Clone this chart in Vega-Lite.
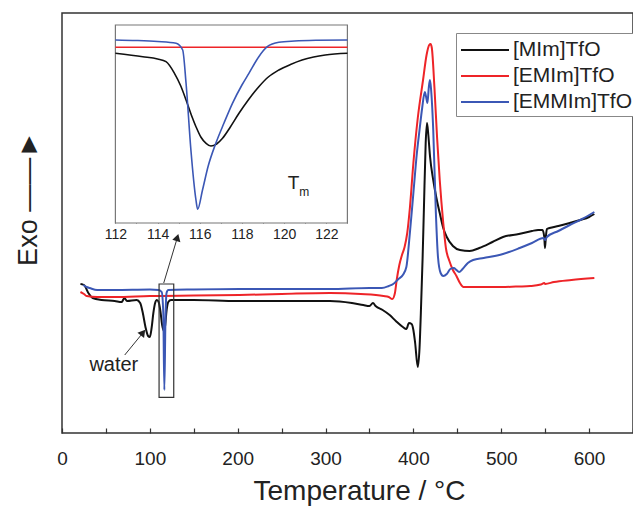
{
"$schema": "https://vega.github.io/schema/vega-lite/v6.json",
"width": 571,
"height": 420,
"autosize": {"type": "none"},
"padding": {"left": 62, "top": 13, "right": 0, "bottom": 73},
"config": {"view": {"stroke": "#333", "strokeWidth": 1.5}, "font": "Liberation Sans", "axis": {"grid": false}},
"datasets": {
"main": [
{"s":"[MIm]TfO","T":21,"v":149},{"s":"[MIm]TfO","T":25,"v":148},{"s":"[MIm]TfO","T":30,"v":140},{"s":"[MIm]TfO","T":35,"v":135},{"s":"[MIm]TfO","T":45,"v":133},{"s":"[MIm]TfO","T":60,"v":132},{"s":"[MIm]TfO","T":68,"v":131},{"s":"[MIm]TfO","T":71,"v":135},{"s":"[MIm]TfO","T":74,"v":132},{"s":"[MIm]TfO","T":85,"v":133},{"s":"[MIm]TfO","T":89,"v":130},{"s":"[MIm]TfO","T":92,"v":120},{"s":"[MIm]TfO","T":95,"v":106},{"s":"[MIm]TfO","T":98,"v":97},{"s":"[MIm]TfO","T":100,"v":96},{"s":"[MIm]TfO","T":102,"v":105},{"s":"[MIm]TfO","T":104,"v":120},{"s":"[MIm]TfO","T":106,"v":130},{"s":"[MIm]TfO","T":108,"v":133},{"s":"[MIm]TfO","T":110,"v":131},{"s":"[MIm]TfO","T":112,"v":122},{"s":"[MIm]TfO","T":114,"v":108},{"s":"[MIm]TfO","T":116,"v":102},{"s":"[MIm]TfO","T":117.5,"v":108},{"s":"[MIm]TfO","T":119,"v":122},{"s":"[MIm]TfO","T":121,"v":131},{"s":"[MIm]TfO","T":124,"v":133},{"s":"[MIm]TfO","T":150,"v":133},{"s":"[MIm]TfO","T":200,"v":132},{"s":"[MIm]TfO","T":250,"v":132},{"s":"[MIm]TfO","T":305,"v":132},{"s":"[MIm]TfO","T":330,"v":130},{"s":"[MIm]TfO","T":343,"v":128},{"s":"[MIm]TfO","T":350,"v":127},{"s":"[MIm]TfO","T":354,"v":130},{"s":"[MIm]TfO","T":357,"v":127},{"s":"[MIm]TfO","T":365,"v":123},{"s":"[MIm]TfO","T":373,"v":118},{"s":"[MIm]TfO","T":380,"v":112},{"s":"[MIm]TfO","T":388,"v":106},{"s":"[MIm]TfO","T":392,"v":104},{"s":"[MIm]TfO","T":395,"v":110},{"s":"[MIm]TfO","T":398,"v":109},{"s":"[MIm]TfO","T":400,"v":103},{"s":"[MIm]TfO","T":402,"v":90},{"s":"[MIm]TfO","T":405,"v":66},{"s":"[MIm]TfO","T":407,"v":85},{"s":"[MIm]TfO","T":408.5,"v":120},{"s":"[MIm]TfO","T":410.5,"v":175},{"s":"[MIm]TfO","T":412,"v":225},{"s":"[MIm]TfO","T":414,"v":290},{"s":"[MIm]TfO","T":415.5,"v":310},{"s":"[MIm]TfO","T":417,"v":298},{"s":"[MIm]TfO","T":419,"v":276},{"s":"[MIm]TfO","T":422.6,"v":253},{"s":"[MIm]TfO","T":426,"v":236},{"s":"[MIm]TfO","T":430,"v":220},{"s":"[MIm]TfO","T":434,"v":205},{"s":"[MIm]TfO","T":438,"v":196},{"s":"[MIm]TfO","T":445,"v":187},{"s":"[MIm]TfO","T":453,"v":183},{"s":"[MIm]TfO","T":464,"v":182},{"s":"[MIm]TfO","T":475,"v":185},{"s":"[MIm]TfO","T":490,"v":191},{"s":"[MIm]TfO","T":502,"v":196},{"s":"[MIm]TfO","T":520,"v":199},{"s":"[MIm]TfO","T":535,"v":202},{"s":"[MIm]TfO","T":542,"v":203},{"s":"[MIm]TfO","T":547,"v":203},{"s":"[MIm]TfO","T":549,"v":196},{"s":"[MIm]TfO","T":549.8,"v":185},{"s":"[MIm]TfO","T":550.8,"v":196},{"s":"[MIm]TfO","T":552,"v":204},{"s":"[MIm]TfO","T":555,"v":205},{"s":"[MIm]TfO","T":565,"v":207},{"s":"[MIm]TfO","T":578,"v":210},{"s":"[MIm]TfO","T":590,"v":213},{"s":"[MIm]TfO","T":600,"v":216},{"s":"[MIm]TfO","T":606,"v":219},
{"s":"[EMIm]TfO","T":21,"v":141},{"s":"[EMIm]TfO","T":25,"v":139},{"s":"[EMIm]TfO","T":28,"v":137},{"s":"[EMIm]TfO","T":40,"v":136},{"s":"[EMIm]TfO","T":60,"v":136},{"s":"[EMIm]TfO","T":100,"v":137},{"s":"[EMIm]TfO","T":150,"v":137.5},{"s":"[EMIm]TfO","T":202,"v":138},{"s":"[EMIm]TfO","T":250,"v":139},{"s":"[EMIm]TfO","T":305,"v":140},{"s":"[EMIm]TfO","T":340,"v":139},{"s":"[EMIm]TfO","T":366,"v":137},{"s":"[EMIm]TfO","T":372,"v":136},{"s":"[EMIm]TfO","T":376,"v":134},{"s":"[EMIm]TfO","T":379,"v":140},{"s":"[EMIm]TfO","T":381,"v":153},{"s":"[EMIm]TfO","T":384,"v":168},{"s":"[EMIm]TfO","T":387,"v":178},{"s":"[EMIm]TfO","T":390,"v":186},{"s":"[EMIm]TfO","T":393,"v":200},{"s":"[EMIm]TfO","T":396,"v":225},{"s":"[EMIm]TfO","T":400,"v":270},{"s":"[EMIm]TfO","T":405,"v":315},{"s":"[EMIm]TfO","T":411,"v":353},{"s":"[EMIm]TfO","T":415,"v":378},{"s":"[EMIm]TfO","T":418,"v":388},{"s":"[EMIm]TfO","T":419.6,"v":389},{"s":"[EMIm]TfO","T":421,"v":385},{"s":"[EMIm]TfO","T":424,"v":345},{"s":"[EMIm]TfO","T":427,"v":295},{"s":"[EMIm]TfO","T":430,"v":253},{"s":"[EMIm]TfO","T":434,"v":210},{"s":"[EMIm]TfO","T":437,"v":185},{"s":"[EMIm]TfO","T":441,"v":172},{"s":"[EMIm]TfO","T":445,"v":163},{"s":"[EMIm]TfO","T":449,"v":157},{"s":"[EMIm]TfO","T":453,"v":150},{"s":"[EMIm]TfO","T":457,"v":146},{"s":"[EMIm]TfO","T":462,"v":146},{"s":"[EMIm]TfO","T":480,"v":146},{"s":"[EMIm]TfO","T":500,"v":146},{"s":"[EMIm]TfO","T":520,"v":146.5},{"s":"[EMIm]TfO","T":533,"v":147},{"s":"[EMIm]TfO","T":545,"v":148.5},{"s":"[EMIm]TfO","T":549,"v":150},{"s":"[EMIm]TfO","T":550,"v":149},{"s":"[EMIm]TfO","T":560,"v":151},{"s":"[EMIm]TfO","T":580,"v":153},{"s":"[EMIm]TfO","T":606,"v":155},
{"s":"[EMMIm]TfO","T":24,"v":148},{"s":"[EMMIm]TfO","T":28,"v":146},{"s":"[EMMIm]TfO","T":31.5,"v":145},{"s":"[EMMIm]TfO","T":40,"v":143},{"s":"[EMMIm]TfO","T":60,"v":143},{"s":"[EMMIm]TfO","T":100,"v":143.5},{"s":"[EMMIm]TfO","T":110,"v":143},{"s":"[EMMIm]TfO","T":113.5,"v":141},{"s":"[EMMIm]TfO","T":115.3,"v":120},{"s":"[EMMIm]TfO","T":116.5,"v":43},{"s":"[EMMIm]TfO","T":117.7,"v":110},{"s":"[EMMIm]TfO","T":119,"v":140},{"s":"[EMMIm]TfO","T":121,"v":143},{"s":"[EMMIm]TfO","T":150,"v":143.5},{"s":"[EMMIm]TfO","T":202,"v":144},{"s":"[EMMIm]TfO","T":250,"v":144},{"s":"[EMMIm]TfO","T":305,"v":144},{"s":"[EMMIm]TfO","T":350,"v":145},{"s":"[EMMIm]TfO","T":364,"v":145},{"s":"[EMMIm]TfO","T":372,"v":147},{"s":"[EMMIm]TfO","T":377,"v":149},{"s":"[EMMIm]TfO","T":383,"v":154},{"s":"[EMMIm]TfO","T":388,"v":158},{"s":"[EMMIm]TfO","T":392,"v":166},{"s":"[EMMIm]TfO","T":396,"v":200},{"s":"[EMMIm]TfO","T":400,"v":240},{"s":"[EMMIm]TfO","T":404,"v":280},{"s":"[EMMIm]TfO","T":407,"v":303},{"s":"[EMMIm]TfO","T":410,"v":325},{"s":"[EMMIm]TfO","T":413,"v":341},{"s":"[EMMIm]TfO","T":414.5,"v":336},{"s":"[EMMIm]TfO","T":416,"v":330},{"s":"[EMMIm]TfO","T":417.5,"v":345},{"s":"[EMMIm]TfO","T":418.8,"v":353},{"s":"[EMMIm]TfO","T":420,"v":345},{"s":"[EMMIm]TfO","T":422.6,"v":303},{"s":"[EMMIm]TfO","T":425.6,"v":220},{"s":"[EMMIm]TfO","T":428,"v":176},{"s":"[EMMIm]TfO","T":431,"v":160},{"s":"[EMMIm]TfO","T":434,"v":157},{"s":"[EMMIm]TfO","T":438,"v":159},{"s":"[EMMIm]TfO","T":442,"v":164},{"s":"[EMMIm]TfO","T":446,"v":165},{"s":"[EMMIm]TfO","T":449,"v":163},{"s":"[EMMIm]TfO","T":452,"v":161},{"s":"[EMMIm]TfO","T":456,"v":164},{"s":"[EMMIm]TfO","T":462,"v":170},{"s":"[EMMIm]TfO","T":468,"v":173},{"s":"[EMMIm]TfO","T":480,"v":175},{"s":"[EMMIm]TfO","T":502,"v":179},{"s":"[EMMIm]TfO","T":521,"v":185},{"s":"[EMMIm]TfO","T":535,"v":190},{"s":"[EMMIm]TfO","T":548,"v":195},{"s":"[EMMIm]TfO","T":550,"v":193},{"s":"[EMMIm]TfO","T":552,"v":196},{"s":"[EMMIm]TfO","T":565,"v":202},{"s":"[EMMIm]TfO","T":578,"v":208},{"s":"[EMMIm]TfO","T":592,"v":214},{"s":"[EMMIm]TfO","T":606,"v":221}
],
"inset": [
{"s":"[MIm]TfO","T":112,"v":169.7},{"s":"[MIm]TfO","T":113.3,"v":166.3},{"s":"[MIm]TfO","T":114,"v":164},{"s":"[MIm]TfO","T":114.4,"v":161.3},{"s":"[MIm]TfO","T":114.8,"v":149.7},{"s":"[MIm]TfO","T":115.1,"v":137},{"s":"[MIm]TfO","T":115.35,"v":123},{"s":"[MIm]TfO","T":115.6,"v":108},{"s":"[MIm]TfO","T":115.82,"v":96.3},{"s":"[MIm]TfO","T":116.05,"v":86},{"s":"[MIm]TfO","T":116.3,"v":79.7},{"s":"[MIm]TfO","T":116.53,"v":77},{"s":"[MIm]TfO","T":116.8,"v":79},{"s":"[MIm]TfO","T":117.08,"v":84.7},{"s":"[MIm]TfO","T":117.45,"v":96},{"s":"[MIm]TfO","T":117.86,"v":109.7},{"s":"[MIm]TfO","T":118.3,"v":123},{"s":"[MIm]TfO","T":118.8,"v":136.3},{"s":"[MIm]TfO","T":119.25,"v":146},{"s":"[MIm]TfO","T":119.75,"v":153},{"s":"[MIm]TfO","T":120.3,"v":158.5},{"s":"[MIm]TfO","T":120.85,"v":163},{"s":"[MIm]TfO","T":121.4,"v":166},{"s":"[MIm]TfO","T":121.95,"v":168},{"s":"[MIm]TfO","T":123,"v":169.7},
{"s":"[EMIm]TfO","T":112,"v":175.7},{"s":"[EMIm]TfO","T":117,"v":175.7},{"s":"[EMIm]TfO","T":123,"v":175.7},
{"s":"[EMMIm]TfO","T":112,"v":183},{"s":"[EMMIm]TfO","T":113,"v":182.5},{"s":"[EMMIm]TfO","T":114,"v":181.5},{"s":"[EMMIm]TfO","T":114.88,"v":179.7},{"s":"[EMMIm]TfO","T":115.19,"v":173},{"s":"[EMMIm]TfO","T":115.35,"v":139.7},{"s":"[EMMIm]TfO","T":115.58,"v":73},{"s":"[EMMIm]TfO","T":115.82,"v":23},{"s":"[EMMIm]TfO","T":115.9,"v":13.7},{"s":"[EMMIm]TfO","T":116.13,"v":33},{"s":"[EMMIm]TfO","T":116.4,"v":57},{"s":"[EMMIm]TfO","T":116.76,"v":79.7},{"s":"[EMMIm]TfO","T":117.15,"v":100},{"s":"[EMMIm]TfO","T":117.55,"v":119.7},{"s":"[EMMIm]TfO","T":118,"v":138},{"s":"[EMMIm]TfO","T":118.33,"v":149.7},{"s":"[EMMIm]TfO","T":118.8,"v":166.3},{"s":"[EMMIm]TfO","T":119.2,"v":176.3},{"s":"[EMMIm]TfO","T":119.75,"v":180.7},{"s":"[EMMIm]TfO","T":120.5,"v":182},{"s":"[EMMIm]TfO","T":121.5,"v":182.7},{"s":"[EMMIm]TfO","T":123,"v":183}
],
"box": [{"T":110.5,"T2":127.2,"v":35.7,"v2":149}],
"arrows": [{"T":71.4,"v":78,"T2":91,"v2":99},{"T":115.8,"v":150,"T2":130.5,"v2":193}],
"headWater": [{"T":92.2,"v":100.5}],
"headInset": [{"T":131.3,"v":195.5}],
"waterLabel": [{"T":59,"v":68,"label":"water"}],
"frame": [{"T":112,"T2":123,"v":0,"v2":198}],
"tLabel": [{"T":120.45,"v":40,"label":"T"}],
"mLabel": [{"T":120.95,"v":31,"label":"m"}]
},
"layer": [
{
"layer": [
{
"data": {"name": "main"},
"mark": {"type": "line", "strokeWidth": 2, "interpolate": "monotone"},
"encoding": {
"x": {"field": "T", "type": "quantitative", "scale": {"domain": [0, 650], "nice": false, "zero": false},
"axis": {"values": [0,50,100,150,200,250,300,350,400,450,500,550,600,650], "labelExpr": "datum.value % 100 == 0 && datum.value <= 600 ? datum.label : ''", "tickSize": -5, "tickColor": "#333", "tickWidth": 1.2, "labelPadding": 21, "labelFontSize": 19, "labelColor": "#222", "labelFlush": false, "labelOverlap": false, "domain": false, "title": "Temperature / °C", "titleFontSize": 28, "titleFontWeight": "normal", "titleColor": "#222", "titleX": 297, "titleY": 66, "titleBaseline": "alphabetic"}},
"y": {"field": "v", "type": "quantitative", "scale": {"domain": [0, 420], "nice": false, "zero": false},
"axis": {"labels": false, "ticks": false, "domain": false, "title": "Exo ——►", "titleFontSize": 27, "titleFontWeight": "normal", "titleColor": "#222", "titleX": -34, "titleY": 185, "titleAlign": "center", "titleBaseline": "middle", "titleAngle": 270}},
"color": {"field": "s", "type": "nominal", "scale": {"domain": ["[MIm]TfO", "[EMIm]TfO", "[EMMIm]TfO"], "range": ["#111111", "#ee2428", "#3b57b5"]},
"legend": {"orient": "none", "legendX": 394, "legendY": 20, "title": null, "strokeColor": "#888", "fillColor": "white", "padding": 4, "symbolType": "M-1,0H3", "symbolSize": 576, "symbolStrokeWidth": 2, "labelFontSize": 21, "labelColor": "#222", "rowPadding": 3, "labelOffset": 27}}
}
},
{
"data": {"name": "box"},
"mark": {"type": "rect", "fill": null, "fillOpacity": 0, "stroke": "#333", "strokeWidth": 1.2},
"encoding": {"x": {"field": "T", "type": "quantitative"}, "x2": {"field": "T2"}, "y": {"field": "v", "type": "quantitative"}, "y2": {"field": "v2"}}
},
{
"data": {"name": "arrows"},
"mark": {"type": "rule", "stroke": "#333", "strokeWidth": 1},
"encoding": {"x": {"field": "T", "type": "quantitative"}, "x2": {"field": "T2"}, "y": {"field": "v", "type": "quantitative"}, "y2": {"field": "v2"}}
},
{
"data": {"name": "headWater"},
"mark": {"type": "point", "shape": "triangle-up", "filled": true, "color": "#222", "size": 70, "angle": 38, "opacity": 1},
"encoding": {"x": {"field": "T", "type": "quantitative"}, "y": {"field": "v", "type": "quantitative"}}
},
{
"data": {"name": "headInset"},
"mark": {"type": "point", "shape": "triangle-up", "filled": true, "color": "#222", "size": 70, "angle": 16, "opacity": 1},
"encoding": {"x": {"field": "T", "type": "quantitative"}, "y": {"field": "v", "type": "quantitative"}}
},
{
"data": {"name": "waterLabel"},
"mark": {"type": "text", "fontSize": 20, "color": "#222", "font": "Liberation Sans"},
"encoding": {"x": {"field": "T", "type": "quantitative"}, "y": {"field": "v", "type": "quantitative"}, "text": {"field": "label"}}
}
]
},
{
"layer": [
{
"data": {"name": "frame"},
"mark": {"type": "rect", "fill": "white", "stroke": "#777", "strokeWidth": 1.2},
"encoding": {
"x": {"field": "T", "type": "quantitative", "scale": {"domain": [112, 123], "range": [53.4, 285.4], "nice": false, "zero": false},
"axis": {"orient": "bottom", "offset": -210, "values": [112,113,114,115,116,117,118,119,120,121,122,123], "labelExpr": "datum.value % 2 == 0 && datum.value < 123 ? datum.label : ''", "tickSize": -4, "tickColor": "#555", "labelPadding": 8, "labelFontSize": 14, "labelColor": "#222", "labelFlush": false, "labelOverlap": false, "domain": false, "title": null}},
"x2": {"field": "T2"},
"y": {"field": "v", "type": "quantitative", "scale": {"domain": [0, 198], "range": [210, 12], "nice": false, "zero": false}, "axis": null},
"y2": {"field": "v2"}
}
},
{
"data": {"name": "inset"},
"mark": {"type": "line", "strokeWidth": 1.6, "interpolate": "monotone"},
"encoding": {
"x": {"field": "T", "type": "quantitative"},
"y": {"field": "v", "type": "quantitative"},
"color": {"field": "s", "type": "nominal", "legend": null}
}
},
{
"data": {"name": "tLabel"},
"mark": {"type": "text", "fontSize": 19, "color": "#222", "font": "Liberation Sans"},
"encoding": {"x": {"field": "T", "type": "quantitative"}, "y": {"field": "v", "type": "quantitative"}, "text": {"field": "label"}}
},
{
"data": {"name": "mLabel"},
"mark": {"type": "text", "fontSize": 12, "color": "#222", "font": "Liberation Sans"},
"encoding": {"x": {"field": "T", "type": "quantitative"}, "y": {"field": "v", "type": "quantitative"}, "text": {"field": "label"}}
}
]
}
],
"resolve": {"scale": {"x": "independent", "y": "independent"}}
}
